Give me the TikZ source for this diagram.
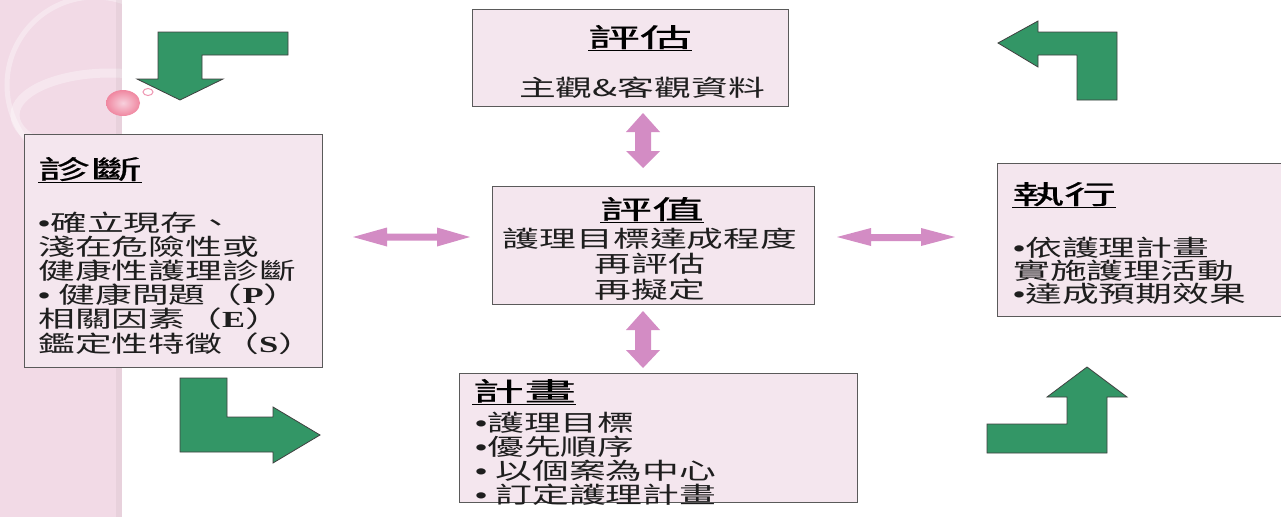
\documentclass[tikz,border=0pt]{standalone}
\usepackage{fontspec}
\newfontfamily\cjk[FakeStretch=1.6]{Noto Sans CJK TC}
\newfontfamily\cjkt[FakeStretch=2.0,FakeBold=0.6]{Noto Sans CJK TC}
\newfontfamily\bulfont[FakeStretch=1.5]{Liberation Sans}
\newfontfamily\latser[FakeStretch=1.5]{Liberation Serif}
\newcommand\bul{{\bulfont •}}
\newcommand\lt[1]{{\latser\bfseries #1}}
\definecolor{stripc}{RGB}{242,218,230}
\definecolor{boxfill}{RGB}{244,230,238}
\definecolor{boxline}{RGB}{90,90,90}
\definecolor{greenc}{RGB}{51,150,102}
\definecolor{pinkc}{RGB}{211,140,196}
\definecolor{textc}{RGB}{30,30,30}
\definecolor{bubblec}{RGB}{238,150,178}
\tikzset{
  box/.style={draw=boxline, line width=1.2pt, fill=boxfill, inner sep=0pt, anchor=north west},
  body/.style={font=\cjk\fontsize{23}{24}\selectfont, inner sep=0pt, text=textc},
  title/.style={font=\cjkt\fontsize{26}{28}\selectfont, inner sep=0pt, text=black},
  greenarrow/.style={fill=greenc, draw=black!75, line width=0.8pt, line join=miter},
  pinkarrow/.style={fill=pinkc, draw=none}
}
\begin{document}
\begin{tikzpicture}[x=1pt,y=-1pt]
\useasboundingbox (0,0) rectangle (1281,517);
\fill[white] (0,0) rectangle (1281,517);
% left decorative strip
\begin{scope}
  \clip (0,0) rectangle (122,517);
  \fill[stripc] (0,0) rectangle (122,517);
  \draw[white, opacity=0.35, line width=5pt] (95,85) circle (88);
  \draw[white, opacity=0.35, line width=9pt] (110,115) ellipse (95 and 42);
  \fill[black, opacity=0.04] (116,0) rectangle (122,517);
\end{scope}
% bubbles
\shade[inner color=white!55!bubblec, outer color=bubblec!90!red] (123,103) ellipse (17 and 13);
\draw[bubblec, fill=white, line width=1pt] (148,92) ellipse (5 and 3.5);

% boxes
\node[box, minimum width=316pt, minimum height=97pt] (assess) at (472,9) {};
\node[box, minimum width=322pt, minimum height=118pt] (eval) at (492,186) {};
\node[box, minimum width=398pt, minimum height=129pt] (plan) at (459,373) {};
\node[box, minimum width=298pt, minimum height=233pt] (diag) at (24,134) {};
\node[box, minimum width=284pt, minimum height=153pt] (impl) at (997,163) {};

% titles
\node[title, anchor=base] (assessT) at (640,47) {\underline{評估}};
\node[title, anchor=base] (evalT) at (652,219) {\underline{評值}};
\node[title, anchor=base west] (diagT) at (38,179) {\underline{診斷}};
\node[title, anchor=base west] (implT) at (1012,204) {\underline{執行}};
\node[title, anchor=base west] (planT) at (472,401) {\underline{計畫}};

% body texts
\node[body, anchor=base] (assess1) at (642,96) {主觀\&客觀資料};
\foreach \t [count=\i] in {護理目標達成程度,再評估,再擬定}
  \node[body, anchor=base] (eval\i) at (650,{247+25.5*(\i-1)}) {\t};
\foreach \t [count=\i] in {\bul 確立現存、,淺在危險性或,健康性護理診斷,\bul\ 健康問題（\lt{P}）,相關因素（\lt{E}）,鑑定性特徵（\lt{S}）}
  \node[body, anchor=base west] (diag\i) at (38,{231+24.2*(\i-1)}) {\t};
\foreach \t [count=\i] in {\bul 依護理計畫,實施護理活動,\bul 達成預期效果}
  \node[body, anchor=base west] (impl\i) at (1013,{256+23.3*(\i-1)}) {\t};
\foreach \t [count=\i] in {\bul 護理目標,\bul 優先順序,\bul\ 以個案為中心,\bul\ 訂定護理計畫}
  \node[body, anchor=base west] (plan\i) at (475,{431+24*(\i-1)}) {\t};

% green bent arrows
\draw[greenarrow] (288,32) -- (158,32) -- (158,79) -- (137,79) -- (180,100) -- (223,79) -- (202,79) -- (202,55) -- (288,55) -- cycle;
\draw[greenarrow] (180,378) -- (227,378) -- (227,417) -- (273,417) -- (273,407) -- (320,435) -- (273,463) -- (273,452) -- (180,452) -- cycle;
\draw[greenarrow] (998,43) -- (1038,21) -- (1038,32) -- (1117,32) -- (1117,100) -- (1077,100) -- (1077,55) -- (1038,55) -- (1038,67) -- cycle;
\draw[greenarrow] (987,453) -- (1107,453) -- (1107,397) -- (1127,397) -- (1087,367) -- (1047,397) -- (1067,397) -- (1067,424) -- (987,424) -- cycle;

% pink double arrows
\fill[pinkarrow] (353,237) -- (387,227.5) -- (387,233.5) -- (437,233.5) -- (437,227.5) -- (470,237) -- (437,246.5) -- (437,240.5) -- (387,240.5) -- (387,246.5) -- cycle;
\fill[pinkarrow] (837,237) -- (871,228) -- (871,234) -- (921,234) -- (921,228) -- (955,237) -- (921,246) -- (921,241) -- (871,241) -- (871,246) -- cycle;
\fill[pinkarrow] (643,113) -- (660,132) -- (651,132) -- (651,151) -- (660,151) -- (643,168) -- (626,151) -- (635,151) -- (635,132) -- (626,132) -- cycle;
\fill[pinkarrow] (643,311) -- (660,330) -- (651,330) -- (651,350) -- (660,350) -- (643,368) -- (626,350) -- (635,350) -- (635,330) -- (626,330) -- cycle;
\end{tikzpicture}
\end{document}
